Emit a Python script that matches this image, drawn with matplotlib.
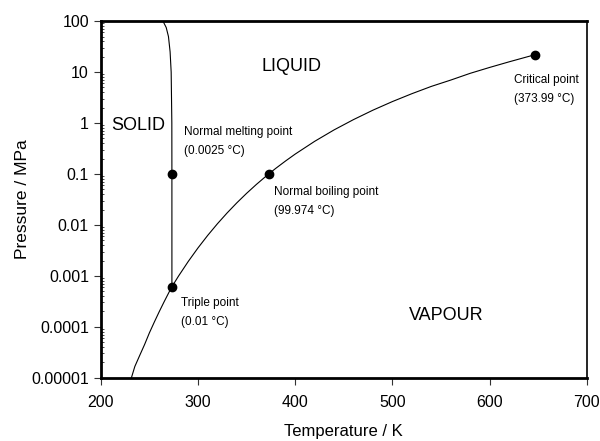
import matplotlib
matplotlib.use("Agg")
import matplotlib.pyplot as plt
from matplotlib.ticker import FixedLocator, LogLocator, NullFormatter

plt.rcParams['font.family'] = ['Liberation Sans', 'DejaVu Sans']

# phase boundaries of water (T in K, p in MPa)
sub_T = [231.5, 235, 240, 245, 250, 255, 260, 265, 270, 273.16]
sub_p = [1.0e-5, 1.66e-5, 2.73e-5, 4.46e-5, 7.60e-5, 1.23e-4, 1.96e-4, 3.06e-4, 4.70e-4, 6.11657e-4]

melt_T = [273.16, 273.15, 273.08, 272.4, 271.3, 269.6, 267.3, 264.0]
melt_p = [6.11657e-4, 0.101325, 1.0, 10.0, 25.0, 50.0, 75.0, 100.0]

vap_T = [273.16, 280, 290, 300, 310, 320, 330, 340, 350, 360, 370, 373.124,
         380, 390, 400, 420, 440, 460, 480, 500, 520, 540, 560, 580, 600,
         620, 640, 647.096]
vap_p = [6.11657e-4, 9.918e-4, 1.920e-3, 3.537e-3, 6.231e-3, 1.0546e-2, 1.7213e-2,
         2.7188e-2, 4.1682e-2, 6.2194e-2, 9.0535e-2, 0.101325, 0.12892, 0.17946,
         0.24577, 0.43724, 0.73364, 1.1687, 1.7905, 2.6392, 3.766, 5.237, 6.973,
         9.4597, 12.345, 15.901, 20.265, 22.064]

# marked points
pt_T = [273.16, 273.15, 373.124, 647.096]
pt_p = [6.11657e-4, 0.101325, 0.101325, 22.064]
pt_labels = ["Triple point\n(0.01 \u00b0C)",
             "Normal melting point\n(0.0025 \u00b0C)",
             "Normal boiling point\n(99.974 \u00b0C)",
             "Critical point\n(373.99 \u00b0C)"]
pt_offsets = [(9, -26), (12, 32), (5, -28), (-21, -35)]

regions = ["SOLID", "LIQUID", "VAPOUR"]
region_T = [238.8, 396.2, 555.0]
region_p = [0.914, 13.1, 1.67e-4]

x_ticks = [200, 300, 400, 500, 600, 700]
y_ticks = [1e-5, 1e-4, 1e-3, 1e-2, 1e-1, 1, 10, 100]
y_ticklabels = ["0.00001", "0.0001", "0.001", "0.01", "0.1", "1", "10", "100"]

fig = plt.figure(figsize=(6, 4.41), dpi=100)
ax = fig.add_axes([0.168, 0.1435, 0.81, 0.8085])

ax.plot(sub_T, sub_p, color='black', lw=0.8)
ax.plot(melt_T, melt_p, color='black', lw=0.8)
ax.plot(vap_T, vap_p, color='black', lw=0.8)
ax.plot(pt_T, pt_p, 'o', color='black', ms=6, ls='none')

for T, p, txt, off in zip(pt_T, pt_p, pt_labels, pt_offsets):
    ax.annotate(txt, xy=(T, p), xytext=off, textcoords='offset pixels',
                ha='left', va='center', fontsize=8.5, linespacing=1.75)

for txt, T, p in zip(regions, region_T, region_p):
    ax.text(T, p, txt, ha='center', va='center', fontsize=13)

ax.set_yscale('log')
ax.set_xlim(200, 700)
ax.set_ylim(1e-5, 100)
ax.set_xticks(x_ticks)
ax.yaxis.set_major_locator(FixedLocator(y_ticks))
ax.set_yticklabels(y_ticklabels)
ax.yaxis.set_minor_locator(LogLocator(base=10, subs=range(2, 10)))
ax.yaxis.set_minor_formatter(NullFormatter())

ax.tick_params(axis='both', which='major', direction='out', length=5, width=0.8,
               labelsize=11.5, color='#333333')
ax.tick_params(axis='x', which='major', pad=7.5)
ax.tick_params(axis='y', which='minor', direction='in', length=2, width=0.5)

for side in ['left', 'bottom', 'top']:
    ax.spines[side].set_linewidth(2)
ax.spines['right'].set_linewidth(1.2)

ax.set_xlabel("Temperature / K", fontsize=12, labelpad=10)
ax.set_ylabel("Pressure / MPa", fontsize=12.5, labelpad=1)

fig.savefig("out.png", dpi=100)
